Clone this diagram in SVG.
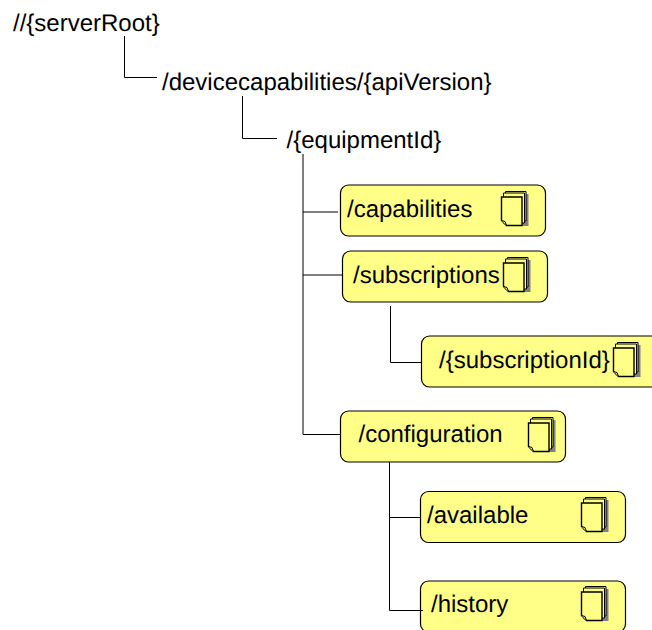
<svg xmlns="http://www.w3.org/2000/svg" width="652" height="630" viewBox="0 0 652 630">
<style>
text{font-family:"Liberation Sans",Arial,sans-serif;font-size:24px;fill:#000;text-rendering:geometricPrecision}
.box{fill:#ffff88;stroke:#000;stroke-width:1.2}
.c{fill:none;stroke:#000;stroke-width:1}
.p{fill:#ffff88;stroke:#000;stroke-width:1}
.m{stroke-width:1.4}
.s{fill:#808080}
</style>
<defs>
<g id="doc">
<path class="s" d="M8 0H27V32H8Z"/>
<path class="p" d="M4 -2.500H24.500V27H4Z"/>
<path class="p" d="M2 -1H23V29H2Z"/>
<path class="p m" d="M0 3H20.500V31.500H5L0 26.500Z"/>
<path class="p" d="M0 26.500L3.500 27.500L5 31.500"/>
</g>
</defs>
<rect width="652" height="630" fill="#fff"/>
<g id="serverRoot"><text x="13" y="31">//{serverRoot}</text></g>
<g id="devicecapabilities"><text x="162" y="90">/devicecapabilities/{apiVersion}</text></g>
<g id="equipmentId"><text x="286.500" y="148">/{equipmentId}</text></g>
<g id="capabilities"><rect class="box" x="340.500" y="185" width="205" height="51" rx="8"/><text x="347" y="217">/capabilities</text><use href="#doc" x="501.500" y="194"/></g>
<g id="subscriptions"><rect class="box" x="342.500" y="251" width="205" height="51" rx="8"/><text x="353" y="283">/subscriptions</text><use href="#doc" x="503.500" y="260"/></g>
<g id="subscriptionId"><rect class="box" x="421.500" y="336" width="240" height="51" rx="8"/><text x="439" y="368">/{subscriptionId}</text><use href="#doc" x="613.500" y="345"/></g>
<g id="configuration"><rect class="box" x="340.500" y="411" width="225" height="51" rx="8"/><text x="358.500" y="442">/configuration</text><use href="#doc" x="528.500" y="420"/></g>
<g id="available"><rect class="box" x="420.500" y="491.500" width="205" height="51" rx="8"/><text x="427" y="523">/available</text><use href="#doc" x="581.500" y="500"/></g>
<g id="history"><rect class="box" x="420.500" y="581" width="205" height="51" rx="8"/><text x="431" y="612">/history</text><use href="#doc" x="581.500" y="589"/></g>
<g id="connectors">
<path class="c" d="M124.500 36V77.500H157"/>
<path class="c" d="M242.500 96V138.500H277"/>
<path class="c" d="M303 154V434.500H340M303 212H338M303 275H342"/>
<path class="c" d="M390.500 306V362.500H421"/>
<path class="c" d="M389.500 462V610.500H423M389.500 517.500H420"/>
</g>
</svg>
